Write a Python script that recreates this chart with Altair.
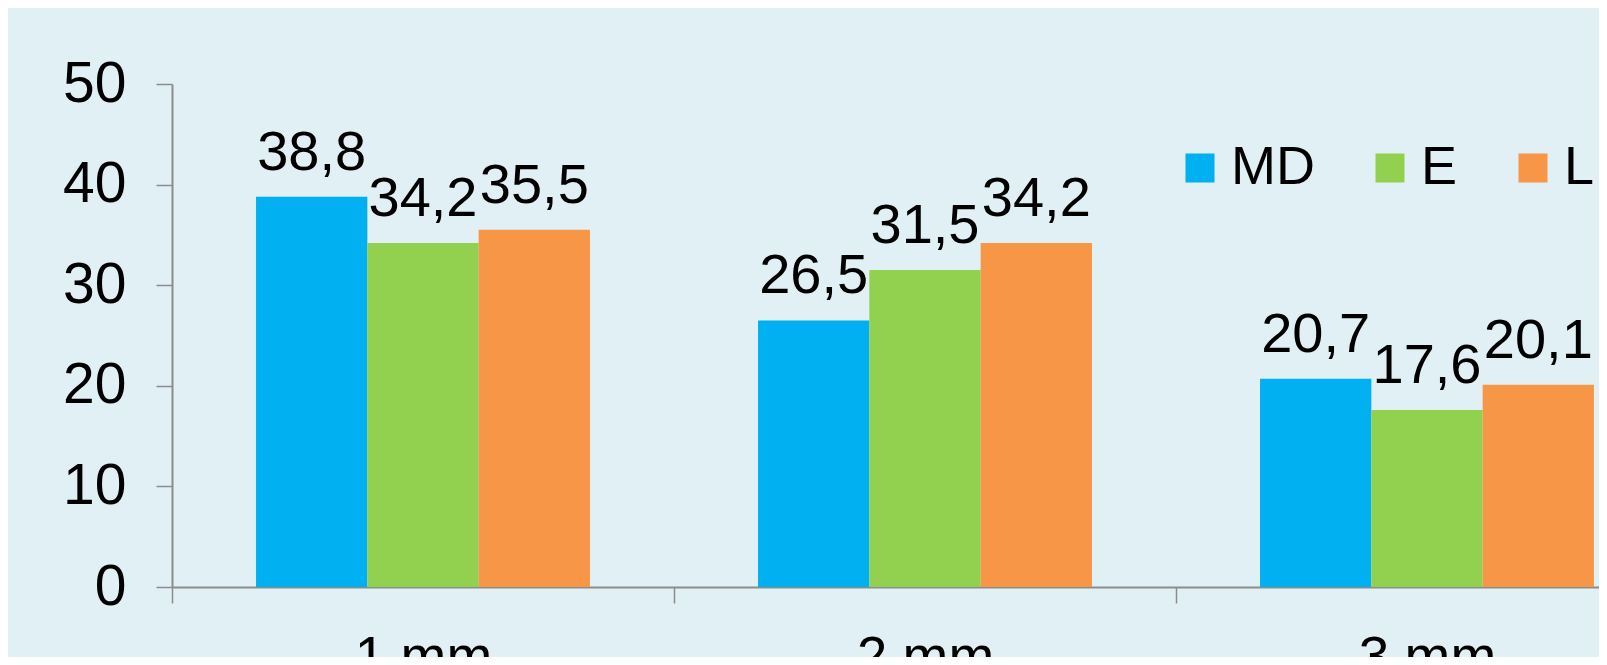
import altair as alt
import pandas as pd

categories = ["1 mm", "2 mm", "3 mm"]
series = ["MD", "E", "L"]
md_values = [38.8, 26.5, 20.7]
e_values = [34.2, 31.5, 17.6]
l_values = [35.5, 34.2, 20.1]
colors = ["#00B0F0", "#92D050", "#F79646"]
y_ticks = [0, 10, 20, 30, 40, 50]

rows = []
for i, c in enumerate(categories):
    for s, vals in zip(series, [md_values, e_values, l_values]):
        v = vals[i]
        rows.append({"cat": c, "series": s, "value": v,
                     "label": f"{v:.1f}".replace(".", ",")})
df = pd.DataFrame(rows)

FONT = "Liberation Sans"
AX = "#8C8C8C"

x = alt.X("cat:N", sort=categories,
          scale=alt.Scale(range=[0, 1506], paddingInner=0, paddingOuter=0),
          axis=alt.Axis(title=None, labelAngle=0, labelFontSize=55, labelFont=FONT,
                        labelColor="black", labelPadding=28, tickBand="extent",
                        tickSize=16, domainColor=AX, tickColor=AX, domainWidth=2,
                        tickWidth=1.5))
xoff = alt.XOffset("series:N", sort=series,
                   scale=alt.Scale(paddingInner=0, paddingOuter=0.755))
y = alt.Y("value:Q", scale=alt.Scale(domain=[0, 50]),
          axis=alt.Axis(values=y_ticks, title=None, grid=False, labelFontSize=57,
                        labelFont=FONT, labelColor="black", labelPadding=30,
                        tickSize=16, domainColor=AX, tickColor=AX, domainWidth=2,
                        tickWidth=1.5))
color = alt.Color("series:N", sort=series,
                  scale=alt.Scale(domain=series, range=colors),
                  legend=alt.Legend(orient="none", legendX=1001, legendY=57,
                                    direction="horizontal", title=None,
                                    symbolType="square", symbolSize=841,
                                    symbolStrokeWidth=0, labelFontSize=54,
                                    labelFont=FONT, labelColor="black",
                                    labelOffset=4, columnPadding=48, padding=0))

bars = alt.Chart(df).mark_bar().encode(x=x, xOffset=xoff, y=y, color=color)
texts = alt.Chart(df).mark_text(dy=-27, baseline="alphabetic", fontSize=56,
                                font=FONT, color="black").encode(
    x=x, xOffset=xoff, y=y, text="label:N")

chart = (bars + texts).properties(
    width=1427, height=503,
    autosize=alt.AutoSizeParams(type="none"),
    padding={"left": 164, "top": 76, "right": 0, "bottom": 70},
    background="#E1F0F5",
).configure_view(stroke=None)

chart.save("out.html", embed_options={"renderer": "svg", "actions": False})
